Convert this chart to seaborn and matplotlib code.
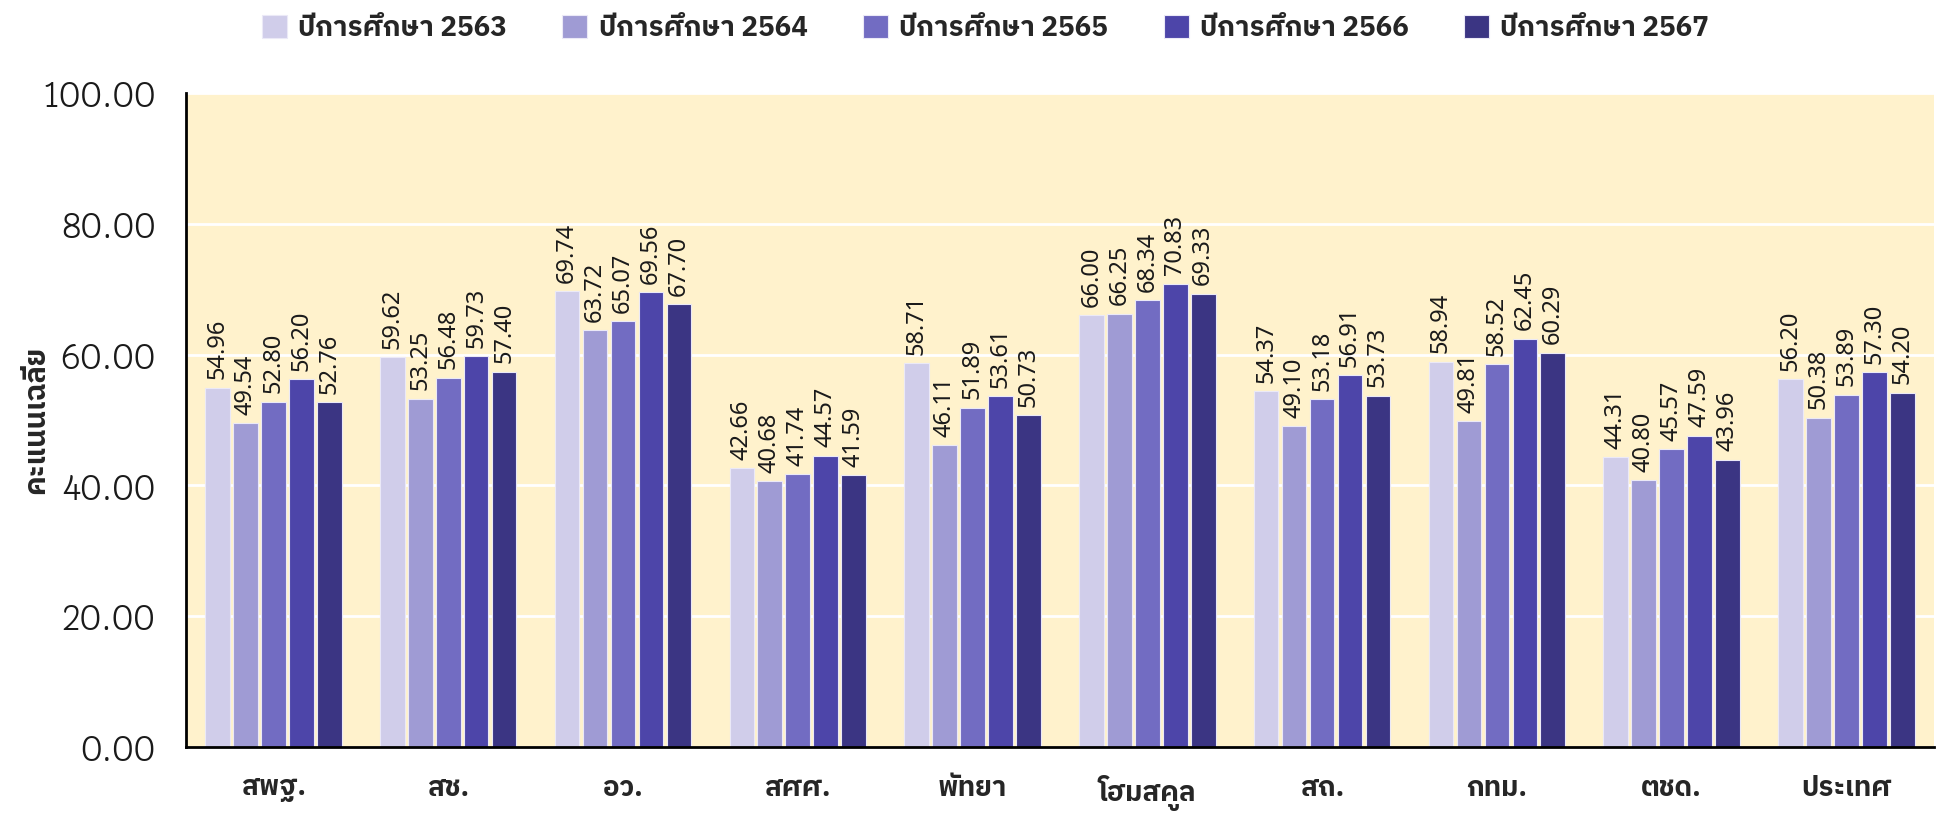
import pandas as pd
import seaborn as sns
import matplotlib.pyplot as plt

regions = ['สพฐ.', 'สช.', 'อว.', 'สศศ.', 'พัทยา', 'โฮมสคูล', 'สถ.', 'กทม.', 'ตชด.', 'ประเทศ']
years = ['ปีการศึกษา 2563', 'ปีการศึกษา 2564', 'ปีการศึกษา 2565', 'ปีการศึกษา 2566', 'ปีการศึกษา 2567']
y2563 = [54.96, 59.62, 69.74, 42.66, 58.71, 66.00, 54.37, 58.94, 44.31, 56.20]
y2564 = [49.54, 53.25, 63.72, 40.68, 46.11, 66.25, 49.10, 49.81, 40.80, 50.38]
y2565 = [52.80, 56.48, 65.07, 41.74, 51.89, 68.34, 53.18, 58.52, 45.57, 53.89]
y2566 = [56.20, 59.73, 69.56, 44.57, 53.61, 70.83, 56.91, 62.45, 47.59, 57.30]
y2567 = [52.76, 57.40, 67.70, 41.59, 50.73, 69.33, 53.73, 60.29, 43.96, 54.20]
colors = ['#d0cdea', '#9f9bd4', '#726cc2', '#4d45a9', '#3b3583']

rows = []
for yr, vals in zip(years, [y2563, y2564, y2565, y2566, y2567]):
    for reg, v in zip(regions, vals):
        rows.append({'region': reg, 'year': yr, 'score': v})
df = pd.DataFrame(rows)

sns.set_style('white')
thai = ['Noto Sans Thai', 'DejaVu Sans']
bold_thai = ['IBM Plex Sans Thai', 'DejaVu Sans']
plt.rcParams['font.family'] = thai

fig = plt.figure(figsize=(19.4, 8.19), dpi=100)
ax = fig.add_axes([0.0959, 0.0879, 0.9009, 0.7985])
ax.set_facecolor('#fff2cc')

sns.barplot(data=df, x='region', y='score', hue='year', palette=colors,
            order=regions, hue_order=years, width=0.8, gap=0.12, saturation=1,
            edgecolor='#ebe9f7', linewidth=0.8, ax=ax, legend=True)

for cont in ax.containers:
    ax.bar_label(cont, fmt='%.2f', rotation=90, padding=6, fontsize=17,
                 family=thai, color='#1a1a1a')

ax.set_ylim(0, 100)
ax.set_xlim(-0.5, 9.5)
ax.set_yticks([0, 20, 40, 60, 80, 100])
ax.set_yticklabels([f'{v:.2f}' for v in [0, 20, 40, 60, 80, 100]],
                   fontsize=25, family=['Krub', 'DejaVu Sans'], color='#1a1a1a')
ax.yaxis.grid(True, color='white', linewidth=2)
ax.set_axisbelow(True)
ax.tick_params(axis='y', length=0, pad=22)
ax.tick_params(axis='x', length=0, pad=20)
for lbl in ax.get_xticklabels():
    lbl.set_fontsize(20)
    lbl.set_fontweight('bold')
    lbl.set_family(bold_thai)
ax.set_xlabel('')
ax.set_ylabel('คะแนนเฉลี่ย', fontsize=21, fontweight='bold', family=bold_thai)
ax.yaxis.set_label_coords(-0.078, 0.5)

for s in ['top', 'right']:
    ax.spines[s].set_visible(False)
for s in ['left', 'bottom']:
    ax.spines[s].set_color('black')
    ax.spines[s].set_linewidth(2)

handles, labels = ax.get_legend_handles_labels()
ax.get_legend().remove()
fig.legend(handles, labels, loc='upper center', bbox_to_anchor=(0.508, 1.012), ncol=5,
           frameon=False, handlelength=0.9, handleheight=0.9,
           columnspacing=2.0, handletextpad=0.4,
           prop={'family': bold_thai, 'weight': 'bold', 'size': 20})

fig.savefig('out.png', dpi=100)
